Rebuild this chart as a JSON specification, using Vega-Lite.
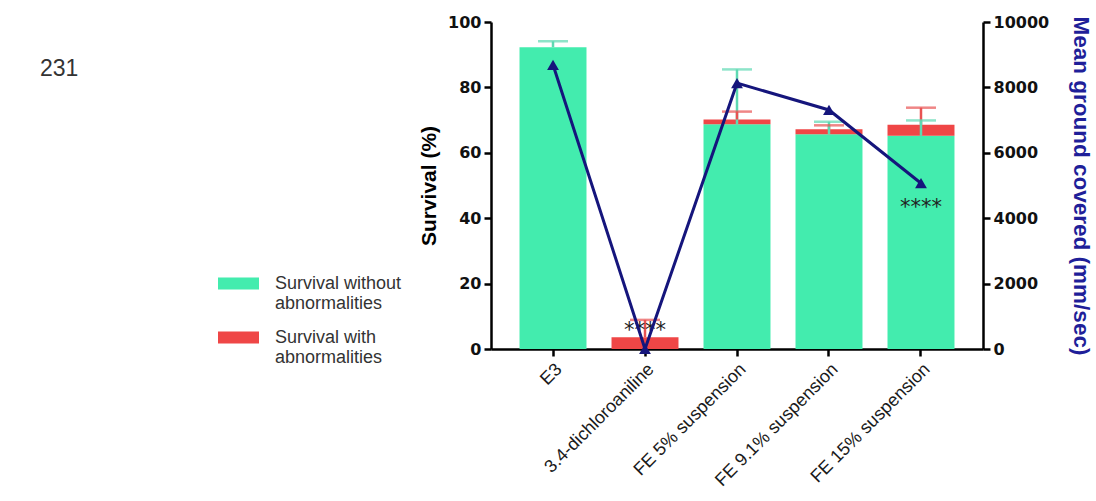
{
  "$schema": "https://vega.github.io/schema/vega-lite/v6.json",
  "width": 492,
  "height": 327,
  "autosize": "none",
  "padding": {"left": 491, "top": 22, "right": 113, "bottom": 152},
  "title": {"text": "231", "anchor": "start", "frame": "group", "orient": "top", "dx": -451, "dy": 89, "baseline": "alphabetic", "fontSize": 23, "fontWeight": "normal", "font": "Liberation Sans", "color": "#333333"},
  "config": {
    "font": "Liberation Sans",
    "view": {"stroke": null},
    "axis": {"grid": false, "domainColor": "#000000", "domainWidth": 2.5, "tickColor": "#000000", "tickWidth": 2.5, "tickSize": 7, "labelColor": "#111111", "labelFontWeight": "bold", "labelFontSize": 16, "labelFont": "DejaVu Sans", "titleFont": "Liberation Sans", "titleFontWeight": "bold"}
  },
  "datasets": {
    "bars": [
      {"cond": "E3", "grp": "Survival without abnormalities", "ord": 1, "val": 92.3},
      {"cond": "E3", "grp": "Survival with abnormalities", "ord": 2, "val": 0},
      {"cond": "3.4-dichloroaniline", "grp": "Survival without abnormalities", "ord": 1, "val": 0},
      {"cond": "3.4-dichloroaniline", "grp": "Survival with abnormalities", "ord": 2, "val": 3.6},
      {"cond": "FE 5% suspension", "grp": "Survival without abnormalities", "ord": 1, "val": 68.7},
      {"cond": "FE 5% suspension", "grp": "Survival with abnormalities", "ord": 2, "val": 1.5},
      {"cond": "FE 9.1% suspension", "grp": "Survival without abnormalities", "ord": 1, "val": 65.7},
      {"cond": "FE 9.1% suspension", "grp": "Survival with abnormalities", "ord": 2, "val": 1.5},
      {"cond": "FE 15% suspension", "grp": "Survival without abnormalities", "ord": 1, "val": 65.2},
      {"cond": "FE 15% suspension", "grp": "Survival with abnormalities", "ord": 2, "val": 3.4}
    ],
    "errs": [
      {"cond": "E3", "grp": "without", "lo": 92.3, "hi": 94.1},
      {"cond": "3.4-dichloroaniline", "grp": "with", "lo": 3.6, "hi": 8.9},
      {"cond": "FE 5% suspension", "grp": "without", "lo": 68.7, "hi": 85.5},
      {"cond": "FE 5% suspension", "grp": "with", "lo": 70.2, "hi": 72.6},
      {"cond": "FE 9.1% suspension", "grp": "with", "lo": 67.2, "hi": 68.4},
      {"cond": "FE 9.1% suspension", "grp": "without", "lo": 65.7, "hi": 69.5},
      {"cond": "FE 15% suspension", "grp": "with", "lo": 68.6, "hi": 73.8},
      {"cond": "FE 15% suspension", "grp": "without", "lo": 65.2, "hi": 69.9}
    ],
    "stars": [
      {"cond": "3.4-dichloroaniline", "pos": 5.5, "label": "****"},
      {"cond": "FE 15% suspension", "pos": 43.0, "label": "****"}
    ],
    "speed": [
      {"cond": "E3", "speed": 8690},
      {"cond": "3.4-dichloroaniline", "speed": 0},
      {"cond": "FE 5% suspension", "speed": 8130},
      {"cond": "FE 9.1% suspension", "speed": 7310},
      {"cond": "FE 15% suspension", "speed": 5070}
    ]
  },
  "encoding": {
    "x": {
      "field": "cond", "type": "nominal",
      "sort": ["E3", "3.4-dichloroaniline", "FE 5% suspension", "FE 9.1% suspension", "FE 15% suspension"],
      "scale": {"paddingInner": 0.272, "paddingOuter": 0.31},
      "axis": {"title": null, "labelAngle": -45, "labelFont": "Liberation Sans", "labelFontWeight": "normal", "labelFontSize": 18, "labelColor": "#1a1a1a", "labelPadding": 4}
    }
  },
  "layer": [
    {
      "layer": [
        {
          "data": {"name": "bars"},
          "mark": {"type": "bar"},
          "encoding": {
            "y": {"field": "val", "type": "quantitative", "stack": "zero", "scale": {"domain": [0, 100], "nice": false},
              "axis": {"orient": "left", "values": [0, 20, 40, 60, 80, 100], "title": "Survival (%)", "titleFontSize": 21, "titlePadding": 8, "titleColor": "#000000", "labelPadding": 3}},
            "color": {"field": "grp", "type": "nominal",
              "scale": {"domain": ["Survival without abnormalities", "Survival with abnormalities"], "range": ["#43ECAE", "#EF4646"]},
              "legend": {"title": null, "orient": "none", "legendX": -273, "legendY": 241,
                "symbolType": "M-1,-0.29H1V0.29H-1Z", "symbolSize": 1681, "symbolStrokeWidth": 0, "symbolOpacity": 1,
                "labelExpr": "[slice(datum.label, 0, indexof(datum.label, ' abn')), 'abnormalities']",
                "labelFont": "Liberation Sans", "labelFontSize": 18, "labelColor": "#333333", "labelOffset": 16, "rowPadding": 4, "labelLimit": 300}},
            "order": {"field": "ord", "type": "quantitative"}
          }
        },
        {
          "data": {"name": "errs"},
          "mark": {"type": "rule", "strokeWidth": 2.5},
          "encoding": {
            "y": {"field": "lo", "type": "quantitative"},
            "y2": {"field": "hi"},
            "stroke": {"field": "grp", "type": "nominal", "scale": {"domain": ["without", "with"], "range": ["#5ED9B2", "#E85252"]}, "legend": null}
          }
        },
        {
          "data": {"name": "errs"},
          "mark": {"type": "tick", "orient": "horizontal", "size": 30, "thickness": 2.5},
          "encoding": {
            "y": {"field": "hi", "type": "quantitative"},
            "fill": {"field": "grp", "type": "nominal", "scale": {"domain": ["without", "with"], "range": ["#5ED9B2", "#E85252"]}, "legend": null}
          }
        },
        {
          "data": {"name": "stars"},
          "mark": {"type": "text", "fontSize": 21, "font": "DejaVu Sans", "color": "#222222", "baseline": "middle"},
          "encoding": {
            "y": {"field": "pos", "type": "quantitative"},
            "text": {"field": "label"}
          }
        }
      ]
    },
    {
      "data": {"name": "speed"},
      "layer": [
        {
          "mark": {"type": "line", "color": "#15157C", "strokeWidth": 3},
          "encoding": {
            "y": {"field": "speed", "type": "quantitative", "scale": {"domain": [0, 10000], "nice": false},
              "axis": {"orient": "right", "values": [0, 2000, 4000, 6000, 8000, 10000], "title": "Mean ground covered (mm/sec)", "titleFontSize": 22.5, "titleColor": "#1F1F99", "titlePadding": 20, "labelPadding": 3, "format": "d"}}
          }
        },
        {
          "mark": {"type": "point", "shape": "triangle-up", "filled": true, "size": 140, "color": "#15157C", "opacity": 1},
          "encoding": {
            "y": {"field": "speed", "type": "quantitative"}
          }
        }
      ]
    }
  ],
  "resolve": {"scale": {"y": "independent"}}
}
